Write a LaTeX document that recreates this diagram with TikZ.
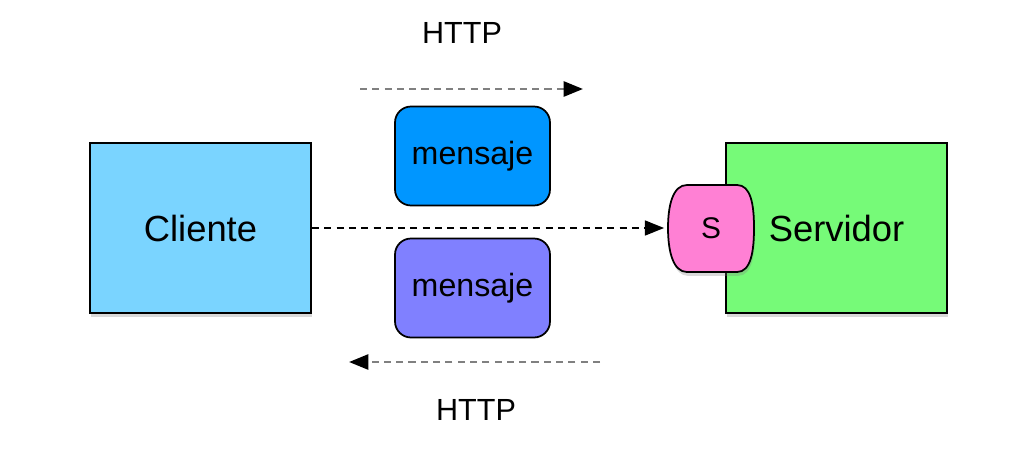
\documentclass[tikz,border=0pt]{standalone}
\usepackage{fontspec}
\setmainfont{Liberation Sans}
\usepackage{tikz}
\usetikzlibrary{arrows.meta, positioning, calc, shadows}

\definecolor{clientblue}{RGB}{122,212,255}
\definecolor{servergreen}{RGB}{118,250,120}
\definecolor{msgblue}{RGB}{0,150,255}
\definecolor{msgviolet}{RGB}{128,128,255}
\definecolor{stubpink}{RGB}{255,128,212}

\tikzset{
  boxshadow/.style={drop shadow={opacity=0.3, shadow xshift=0.6pt, shadow yshift=-2.2pt}},
  endbox/.style={draw, line width=1.2pt, minimum width=4.42cm, minimum height=3.4cm, boxshadow, font=\fontsize{20.7}{24}\selectfont},
  msgbox/.style={draw, line width=1pt, rounded corners=0.32cm, minimum width=3.1cm, minimum height=1.98cm, font=\fontsize{18.3}{21}\selectfont},
  http/.style={gray, dash pattern=on 4pt off 3pt, line width=1.6pt, -{Triangle[length=11pt, width=8.5pt, black]}},
  call/.style={black, dash pattern=on 4pt off 3pt, line width=1.1pt, -{Triangle[length=11pt, width=8.5pt]}},
  lbl/.style={font=\fontsize{17.4}{20}\selectfont}
}

\begin{document}
\begin{tikzpicture}[x=0.02cm, y=-0.02cm]
\useasboundingbox (0,0) rectangle (1017,463);

% Nodes
\node[endbox, fill=clientblue] (cliente) at (200.5,228) {Cliente};
\node[endbox, fill=servergreen] (servidor) at (836.5,228) {Servidor};
\node[msgbox, fill=msgblue] (msgup) at (472.5,156) {mensaje};
\node[msgbox, fill=msgviolet] (msgdown) at (472.5,288) {mensaje};

% stub on the server
\draw[fill=stubpink, line width=1pt, boxshadow]
  (687,185) -- (737,185)
  .. controls (751,185) and (754,205) .. (754,228)
  .. controls (754,251) and (751,272) .. (737,272)
  -- (687,272)
  .. controls (673,272) and (668,251) .. (668,228)
  .. controls (668,205) and (673,185) .. cycle;
\node[font=\fontsize{17}{20}\selectfont, minimum width=1.72cm, minimum height=1.74cm, inner sep=0pt] (stub) at (711,228) {S};

% Arrows
\coordinate (upstart) at (360,89);
\coordinate (upend) at (583,89);
\coordinate (downstart) at (600,362);
\coordinate (downend) at (349,362);
\draw[http] (upstart) -- (upend);
\draw[http] (downstart) -- (downend);
\draw[call] (cliente.east) -- ([xshift=-2pt]stub.west);

% Labels
\node[lbl] (httpup) at (462,33) {HTTP};
\node[lbl] (httpdown) at (476,410) {HTTP};
\end{tikzpicture}
\end{document}
